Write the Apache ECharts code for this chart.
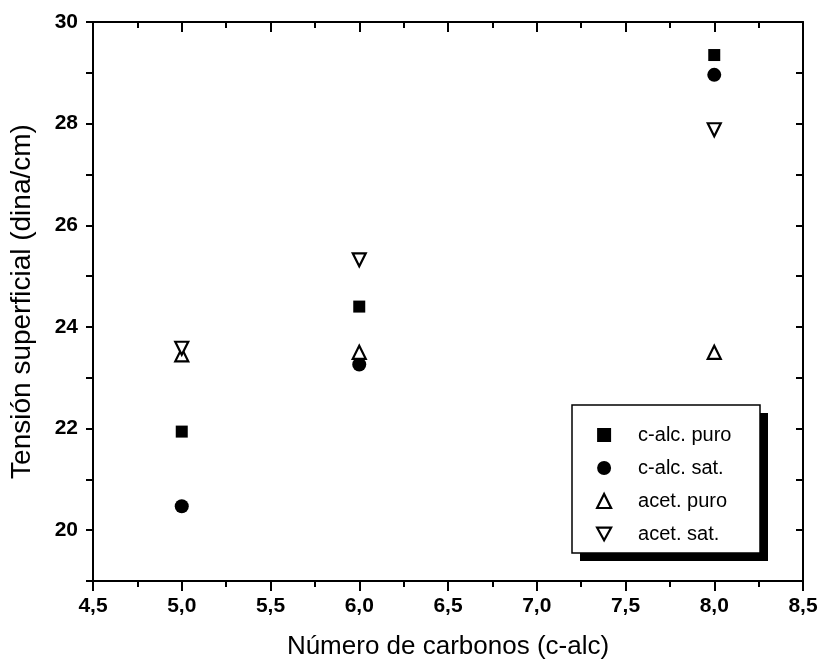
<!DOCTYPE html>
<html>
<head>
<meta charset="utf-8">
<script src="https://cdn.jsdelivr.net/npm/echarts@6/dist/echarts.min.js"></script>
<style>
html,body{margin:0;padding:0;background:#fff;}
#chart{width:822px;height:665px;}
</style>
</head>
<body>
<div id="chart"></div>
<script>
var xValues = [5, 6, 8];
var calcPuro = [21.94, 24.40, 29.35];
var calcSat = [20.47, 23.26, 28.96];
var acetPuro = [23.45, 23.50, 23.50];
var acetSat = [23.58, 25.32, 27.88];
var seriesNames = ['c-alc. puro', 'c-alc. sat.', 'acet. puro', 'acet. sat.'];
var xTitle = 'Número de carbonos (c-alc)';
var yTitle = 'Tensión superficial (dina/cm)';

function pairs(ys) { return xValues.map(function (x, i) { return [x, ys[i]]; }); }
var font = 'Liberation Sans, Arial, sans-serif';
var chart = echarts.init(document.getElementById('chart'));
var axisLine = { show: true, onZero: false, lineStyle: { color: '#000', width: 2 } };
var commonX = { type: 'value', min: 4.5, max: 8.5, interval: 0.5, splitLine: { show: false }, axisLine: axisLine };
var commonY = { type: 'value', min: 19, max: 30, interval: 1, splitLine: { show: false }, axisLine: axisLine };
var downTri = 'path://M0,0 L10,0 L5,9 Z';
var openStyle = { color: '#fff', borderColor: '#000', borderWidth: 2.2, opacity: 1 };

chart.setOption({
  backgroundColor: '#fff',
  animation: false,
  graphic: [
    { type: 'rect', z: 5, shape: { x: 580, y: 413, width: 188, height: 148 }, style: { fill: '#000' } },
    { type: 'rect', z: 6, shape: { x: 572, y: 405, width: 188, height: 148 }, style: { fill: '#fff', stroke: '#000', lineWidth: 1.5 } }
  ],
  grid: { left: 90, right: 19, top: 22, bottom: 84, containLabel: false },
  legend: {
    orient: 'vertical',
    left: 572, top: 405,
    z: 10,
    padding: [20, 20, 12, 24],
    itemGap: 13,
    itemWidth: 14, itemHeight: 14,
    textStyle: { fontFamily: font, fontSize: 20, color: '#000', padding: [0, 0, 0, 22] },
    data: [
      { name: seriesNames[0], icon: 'rect', itemStyle: { color: '#000', opacity: 1 } },
      { name: seriesNames[1], icon: 'circle', itemStyle: { color: '#000', opacity: 1 } },
      { name: seriesNames[2], icon: 'triangle', itemStyle: openStyle },
      { name: seriesNames[3], icon: downTri, itemStyle: openStyle }
    ]
  },
  xAxis: [
    Object.assign({}, commonX, {
      position: 'bottom',
      axisTick: { show: true, inside: false, length: 10, lineStyle: { color: '#000', width: 2 } },
      minorTick: { show: true, splitNumber: 2, length: 6, lineStyle: { color: '#000', width: 2 } },
      axisLabel: { show: true, margin: 15, fontFamily: font, fontSize: 21, fontWeight: 'bold', color: '#000',
        formatter: function (v) { return v.toFixed(1).replace('.', ','); } },
      name: xTitle, nameLocation: 'middle', nameGap: 53,
      nameTextStyle: { fontFamily: font, fontSize: 26, color: '#000' }
    }),
    Object.assign({}, commonX, {
      position: 'top',
      axisTick: { show: true, inside: true, length: 10, lineStyle: { color: '#000', width: 2 } },
      minorTick: { show: true, splitNumber: 2, length: 6, lineStyle: { color: '#000', width: 2 } },
      axisLabel: { show: false }
    })
  ],
  yAxis: [
    Object.assign({}, commonY, {
      position: 'left',
      axisTick: { show: true, inside: false, length: 7, lineStyle: { color: '#000', width: 2 } },
      axisLabel: { show: true, margin: 15, fontFamily: font, fontSize: 21, fontWeight: 'bold', color: '#000',
        formatter: function (v) { return (v % 2 === 0) ? String(v) : ''; } },
      name: yTitle, nameLocation: 'middle', nameGap: 57, nameRotate: 90,
      nameTextStyle: { fontFamily: font, fontSize: 28, color: '#000' }
    }),
    Object.assign({}, commonY, {
      position: 'right',
      axisTick: { show: true, inside: true, length: 7, lineStyle: { color: '#000', width: 2 } },
      axisLabel: { show: false }
    })
  ],
  series: [
    { name: seriesNames[0], type: 'scatter', data: pairs(calcPuro), symbol: 'rect', symbolSize: 12,
      itemStyle: { color: '#000', opacity: 1 } },
    { name: seriesNames[1], type: 'scatter', data: pairs(calcSat), symbol: 'circle', symbolSize: 14,
      itemStyle: { color: '#000', opacity: 1 } },
    { name: seriesNames[2], type: 'scatter', data: pairs(acetPuro), symbol: 'triangle', symbolSize: 13,
      itemStyle: openStyle },
    { name: seriesNames[3], type: 'scatter', data: pairs(acetSat), symbol: downTri, symbolSize: 13,
      itemStyle: openStyle }
  ]
});
</script>
</body>
</html>
